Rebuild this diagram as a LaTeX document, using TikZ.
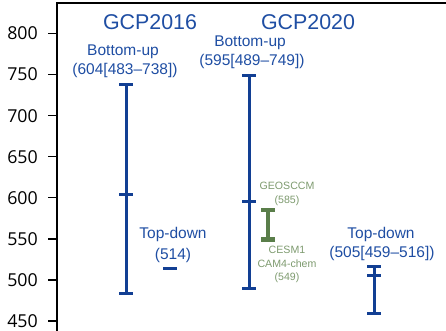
\documentclass[tikz,border=0pt]{standalone}
\usepackage{fontspec}
\setmainfont{Liberation Sans}
\newfontfamily\tickfont{Open Sans}
\newcommand\Y[1]{33.5+(800-#1)*0.8214}
\definecolor{barblue}{HTML}{123F93}
\definecolor{txtblue}{HTML}{1F4EA3}
\definecolor{bargreen}{HTML}{5A7E4A}
\definecolor{txtgreen}{HTML}{7D9A6E}
\begin{document}
\begin{tikzpicture}[x=1pt,y=-1pt,
  tick/.style={line width=1.3pt,black},
  ticklabel/.style={anchor=east,inner sep=0pt,font=\tickfont\fontsize{17.8}{18}\selectfont},
  title/.style={anchor=base,inner sep=0pt,text=txtblue,font=\fontsize{21.4}{22}\selectfont},
  lbl/.style={anchor=base,inner sep=0pt,text=txtblue,font=\fontsize{15.5}{16}\selectfont},
  glbl/.style={anchor=base,inner sep=0pt,text=txtgreen,font=\fontsize{10.6}{11}\selectfont},
  bbar/.style={line width=3pt,barblue},
  gbar/.style={line width=4.5pt,bargreen}]
\useasboundingbox (0,0) rectangle (446,330);
% frame
\coordinate (fb) at (57,331);
\coordinate (ftl) at (57,3);
\coordinate (ftr) at (447,3);
\draw[line width=1.5pt] (fb) -- (ftl) -- (ftr);
% ticks
\foreach \v in {450,500,...,800}{
  \coordinate (t\v) at (57,{\Y{\v}});
  \coordinate (s\v) at (48,{\Y{\v}});
  \draw[tick] (t\v) -- (s\v);
  \node[ticklabel] (l\v) at (38,{\Y{\v}}) {\v};
}
% titles
\node[title] (g16) at (150,29) {GCP2016};
\node[title] (g20) at (308,29) {GCP2020};
% GCP2016 bottom-up
\node[lbl] (bu16a) at (123,55) {Bottom-up};
\node[lbl] (bu16b) at (125,74) {(604[483–738])};
\coordinate (a1t) at (126,{\Y{738}});
\coordinate (a1b) at (126,{\Y{483}});
\coordinate (a1m) at (126,{\Y{604}});
\draw[bbar] (a1t) -- (a1b);
\draw[bbar] ([xshift=-7pt]a1t) -- ([xshift=7pt]a1t);
\draw[bbar] ([xshift=-7pt]a1b) -- ([xshift=7pt]a1b);
\draw[bbar] ([xshift=-7pt]a1m) -- ([xshift=7pt]a1m);
% GCP2016 top-down
\node[lbl] (td16a) at (173,238) {Top-down};
\node[lbl] (td16b) at (173,259) {(514)};
\coordinate (a2) at (170,{\Y{514}});
\draw[bbar] ([xshift=-7pt]a2) -- ([xshift=7pt]a2);
% GCP2020 bottom-up
\node[lbl] (bu20a) at (250,46) {Bottom-up};
\node[lbl] (bu20b) at (252,65) {(595[489–749])};
\coordinate (a3t) at (249,{\Y{749}});
\coordinate (a3b) at (249,{\Y{489}});
\coordinate (a3m) at (249,{\Y{595}});
\draw[bbar] (a3t) -- (a3b);
\draw[bbar] ([xshift=-7pt]a3t) -- ([xshift=7pt]a3t);
\draw[bbar] ([xshift=-7pt]a3b) -- ([xshift=7pt]a3b);
\draw[bbar] ([xshift=-7pt]a3m) -- ([xshift=7pt]a3m);
% models
\node[glbl] (geo) at (287,189) {GEOSCCM};
\node[glbl] (geov) at (287,203) {(585)};
\node[glbl] (cesm) at (287,253) {CESM1};
\node[glbl] (cam) at (287,267) {CAM4-chem};
\node[glbl] (camv) at (287,280) {(549)};
\coordinate (gt) at (268,{\Y{585}});
\coordinate (gb) at (268,{\Y{549}});
\draw[gbar] (gt) -- (gb);
\draw[gbar] ([xshift=-7pt]gt) -- ([xshift=7pt]gt);
\draw[gbar] ([xshift=-7pt]gb) -- ([xshift=7pt]gb);
% GCP2020 top-down
\node[lbl] (td20a) at (381,238) {Top-down};
\node[lbl] (td20b) at (382,257) {(505[459–516])};
\coordinate (a4t) at (374,{\Y{516}});
\coordinate (a4b) at (374,{\Y{459}});
\coordinate (a4m) at (374,{\Y{505}});
\draw[bbar] (a4t) -- (a4b);
\draw[bbar] ([xshift=-7pt]a4t) -- ([xshift=7pt]a4t);
\draw[bbar] ([xshift=-7pt]a4b) -- ([xshift=7pt]a4b);
\draw[bbar] ([xshift=-7pt]a4m) -- ([xshift=7pt]a4m);
\end{tikzpicture}
\end{document}
